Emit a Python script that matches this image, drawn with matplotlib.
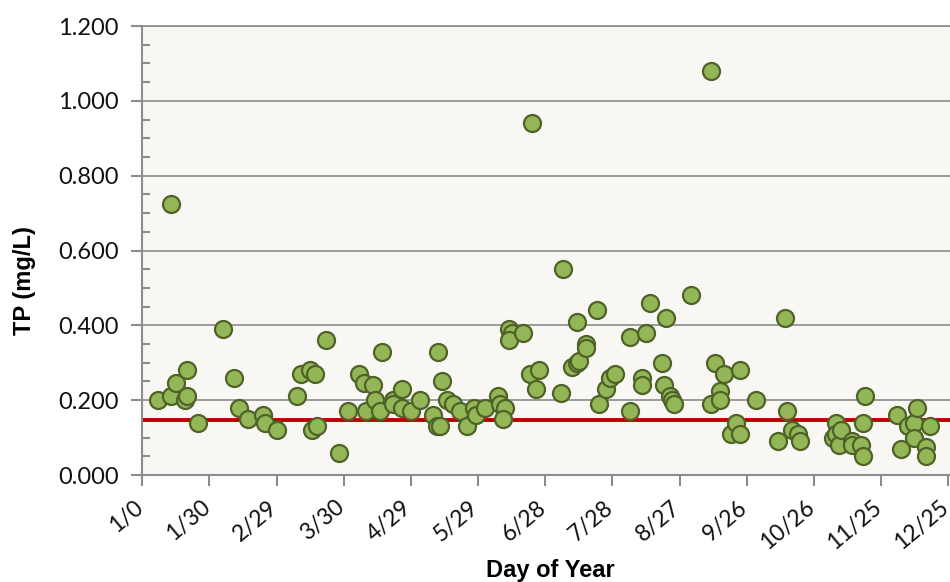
import matplotlib
matplotlib.use("Agg")
import matplotlib.pyplot as plt
import matplotlib.transforms as mtransforms
import numpy as np
from matplotlib.ticker import MultipleLocator, FormatStrFormatter

# day of year and total phosphorus (mg/L)
day = [7, 13, 13, 15, 19, 20, 20, 25, 36, 41, 43, 47, 54, 55, 60,
       69, 71, 75, 77, 76, 78, 82, 88, 92, 97, 99, 100, 103, 104, 106,
       107, 112, 112, 116, 116, 120, 124, 130, 132, 131.5, 133, 134, 136, 139, 142,
       145, 148, 149, 153, 159, 160, 162, 161, 164, 165, 164, 170, 174, 173, 177,
       176, 187, 188, 192, 194, 195, 194, 198, 198, 203, 204, 207, 209, 211, 218,
       218, 223, 223, 225, 227, 232, 233, 234, 235.5, 236.5, 237.6, 245, 254, 254, 256,
       258, 258, 260, 263, 265, 267, 267, 274, 284, 287, 288, 290, 293, 294, 308.5,
       310, 310, 311, 312, 317, 317, 321, 322, 322, 323, 337, 339, 342, 344.5, 344.5,
       346, 350, 350, 352]
tp = [0.200, 0.725, 0.210, 0.245, 0.200, 0.210, 0.280, 0.140, 0.390, 0.260, 0.180, 0.150, 0.160, 0.140, 0.120,
      0.210, 0.270, 0.280, 0.270, 0.120, 0.130, 0.360, 0.060, 0.170, 0.270, 0.245, 0.170, 0.240, 0.200, 0.170,
      0.330, 0.200, 0.190, 0.230, 0.180, 0.170, 0.200, 0.160, 0.330, 0.130, 0.130, 0.250, 0.200, 0.190, 0.170,
      0.130, 0.180, 0.160, 0.180, 0.210, 0.190, 0.180, 0.150, 0.390, 0.380, 0.360, 0.380, 0.940, 0.270, 0.280,
      0.230, 0.220, 0.550, 0.290, 0.300, 0.305, 0.410, 0.350, 0.340, 0.440, 0.190, 0.230, 0.260, 0.270, 0.370,
      0.170, 0.260, 0.240, 0.380, 0.460, 0.300, 0.240, 0.420, 0.210, 0.200, 0.190, 0.480, 1.080, 0.190, 0.300,
      0.225, 0.200, 0.270, 0.110, 0.140, 0.110, 0.280, 0.200, 0.090, 0.420, 0.170, 0.120, 0.110, 0.090, 0.100,
      0.140, 0.110, 0.080, 0.120, 0.090, 0.080, 0.080, 0.050, 0.140, 0.210, 0.160, 0.070, 0.130, 0.140, 0.100,
      0.180, 0.075, 0.050, 0.130]
standard = 0.147

tick_days = [0, 30, 60, 90, 120, 150, 180, 210, 240, 270, 300, 330, 360]
tick_labels = ['1/0', '1/30', '2/29', '3/30', '4/29', '5/29', '6/28', '7/28',
               '8/27', '9/26', '10/26', '11/25', '12/25']

plt.rcParams['font.family'] = ['Lato', 'DejaVu Sans']

fig = plt.figure(figsize=(9.5, 5.82), dpi=100)
ax = fig.add_axes([0.1498, 0.1838, 0.8502, 0.7715])
ax.set_facecolor('#f8f7f4')

ax.axhline(standard, color='#c00000', lw=2.8, zorder=2)
ax.scatter(day, tp, s=150, facecolor='#93b656', edgecolor='#4f6228', linewidth=1.6, zorder=3)

ax.set_xlim(0, 360.8)
ax.set_ylim(0, 1.2)
ax.yaxis.set_major_locator(MultipleLocator(0.2))
ax.yaxis.set_minor_locator(MultipleLocator(0.05))
ax.yaxis.set_major_formatter(FormatStrFormatter('%.3f'))
ax.set_xticks(tick_days)
ax.set_xticklabels(tick_labels, rotation=40, ha='right', va='top', rotation_mode='anchor')

ax.grid(axis='y', which='major', color='#8c8c8c', lw=1.2, zorder=1)
ax.set_axisbelow(True)
for side in ['left', 'bottom']:
    ax.spines[side].set_color('#8c8c8c')
    ax.spines[side].set_linewidth(1.5)
ax.spines['top'].set_color('#8c8c8c')
ax.spines['top'].set_linewidth(1.2)
ax.spines['right'].set_visible(False)

ax.tick_params(axis='y', which='major', direction='out', length=8, width=1.5, color='#8c8c8c',
               labelsize=17, pad=9, labelcolor='#111111')
ax.tick_params(axis='y', which='minor', direction='in', length=6, width=1.5, color='#8c8c8c')
ax.tick_params(axis='x', which='major', direction='out', length=8, width=1.5, color='#8c8c8c',
               labelsize=16.5, pad=7.5, labelcolor='#111111')

# nudge the rotated labels left so they hang under their ticks (after tick_params, which resets transforms)
shift = mtransforms.ScaledTranslation(-9 / 100, 0, fig.dpi_scale_trans)
for tick in ax.xaxis.get_major_ticks():
    tick.label1.set_transform(tick.label1.get_transform() + shift)

ax.set_xlabel('Day of Year', fontsize=17, fontweight='bold', family=['Liberation Sans', 'DejaVu Sans'])
ax.xaxis.label.set_va('baseline')
ax.xaxis.set_label_coords(0.505, -0.227)
ax.set_ylabel('TP (mg/L)', fontsize=17, fontweight='bold', family=['Liberation Sans', 'DejaVu Sans'])
ax.yaxis.label.set_va('center')
ax.yaxis.set_label_coords(-0.146, 0.434)

fig.savefig('out.png', dpi=100)
